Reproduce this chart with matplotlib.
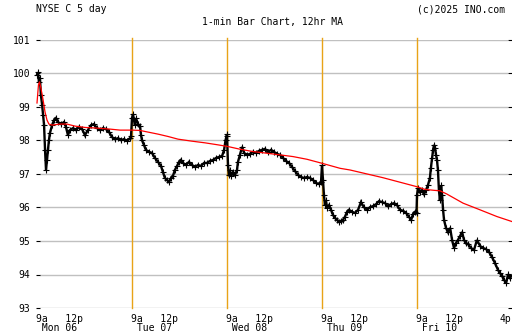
import matplotlib
matplotlib.use("Agg")
import matplotlib.pyplot as plt
import matplotlib.transforms as mtransforms
import numpy as np

# ---------------- data ----------------
day_labels = ["Mon 06", "Tue 07", "Wed 08", "Thu 09", "Fri 10"]
hour_labels = ["9a", "12p"]
end_label = "4p"
y_ticks = [93, 94, 95, 96, 97, 98, 99, 100, 101]
session_minutes = 390  # 9:30 -> 16:00

# minutes after the open, and price, per day
mon_t = [0, 4, 8, 12, 16, 21, 25, 29, 33, 37, 41, 45, 49, 53, 62, 70, 78, 86, 99, 111,
         119, 127, 135, 148, 160, 172, 185, 197, 209, 222, 234, 246, 259, 271, 283, 296,
         308, 320, 333, 345, 357, 370, 382, 386]
mon_p = [99.96, 100.04, 99.75, 99.87, 99.36, 99.06, 98.76, 98.46, 97.72, 97.12, 97.42,
         97.72, 98.01, 98.22, 98.46, 98.61, 98.67, 98.55, 98.49, 98.55, 98.40, 98.16,
         98.31, 98.37, 98.31, 98.40, 98.34, 98.16, 98.31, 98.46, 98.49, 98.37, 98.31,
         98.37, 98.34, 98.25, 98.10, 98.04, 98.07, 98.01, 98.04, 97.99, 98.07, 98.13]

tue_t = [0, 4, 8, 12, 16, 25, 33, 37, 41, 49, 57, 70, 82, 94, 107, 119, 127, 135, 144,
         152, 160, 168, 176, 185, 193, 201, 209, 222, 234, 246, 259, 271, 283, 296, 308,
         320, 333, 345, 357, 370, 378, 384, 388]
tue_p = [98.67, 98.79, 98.61, 98.46, 98.67, 98.49, 98.43, 98.16, 98.01, 97.87, 97.72,
         97.66, 97.63, 97.48, 97.36, 97.24, 97.06, 96.88, 96.82, 96.76, 96.88, 96.94,
         97.12, 97.24, 97.36, 97.42, 97.33, 97.27, 97.36, 97.27, 97.21, 97.27, 97.24,
         97.33, 97.33, 97.39, 97.42, 97.48, 97.51, 97.54, 97.72, 98.01, 98.13]

wed_t = [0, 4, 8, 12, 16, 25, 33, 41, 45, 53, 62, 70, 82, 94, 107, 119, 131, 144, 156,
         168, 181, 193, 205, 218, 230, 242, 255, 267, 279, 292, 304, 316, 329, 341, 353,
         366, 378, 386]
wed_p = [98.19, 97.27, 96.97, 97.12, 96.94, 97.06, 96.97, 97.12, 97.36, 97.57, 97.81,
         97.63, 97.57, 97.60, 97.66, 97.63, 97.69, 97.72, 97.75, 97.66, 97.72, 97.66,
         97.60, 97.57, 97.48, 97.39, 97.33, 97.21, 97.09, 96.97, 96.91, 96.88, 96.91,
         96.88, 96.82, 96.73, 96.70, 96.76]

thu_t = [0, 4, 8, 12, 16, 21, 29, 37, 45, 53, 62, 70, 78, 86, 94, 103, 111, 123, 136,
         148, 160, 172, 185, 197, 209, 222, 234, 246, 259, 271, 283, 296, 308, 320, 333,
         345, 357, 366, 374, 382, 388]
thu_p = [97.27, 96.82, 96.37, 96.07, 96.22, 95.99, 96.07, 95.93, 95.78, 95.69, 95.63,
         95.57, 95.60, 95.63, 95.72, 95.87, 95.93, 95.87, 95.84, 95.93, 96.16, 96.01,
         95.93, 96.01, 96.04, 96.10, 96.19, 96.16, 96.13, 96.04, 96.10, 96.13, 96.07,
         95.93, 95.90, 95.84, 95.72, 95.63, 95.81, 95.87, 95.84]

fri_t = [0, 4, 12, 21, 29, 37, 45, 53, 57, 62, 66, 70, 74, 78, 82, 86, 90, 94, 99, 103,
         107, 111, 119, 127, 136, 144, 152, 160, 168, 177, 185, 193, 201, 209, 222, 234,
         246, 259, 271, 283, 296, 308, 320, 333, 341, 349, 357, 366, 374, 382, 388]
fri_p = [96.37, 96.58, 96.46, 96.52, 96.40, 96.52, 96.67, 96.88, 97.18, 97.48, 97.72,
         97.87, 97.78, 97.57, 97.42, 97.12, 96.52, 96.22, 96.67, 96.37, 95.93, 95.63,
         95.39, 95.27, 95.39, 95.03, 94.79, 94.94, 95.03, 95.15, 95.27, 95.03, 94.94,
         94.91, 94.79, 94.73, 95.03, 94.85, 94.79, 94.76, 94.67, 94.52, 94.34, 94.13,
         94.04, 93.96, 93.84, 93.75, 94.01, 93.90, 93.96]

# 12hr moving average (minutes since Monday open, value)
ma_t = [0, 6, 10, 16, 25, 33, 41, 49, 62, 94, 123, 156, 197, 246, 300, 341, 390, 423,
        443, 497, 538, 579, 636, 690, 743, 784, 833, 887, 944, 998, 1051, 1108, 1170,
        1244, 1285, 1420, 1560, 1593, 1634, 1654, 1683, 1749, 1819, 1888, 1950]
ma_p = [99.12, 99.66, 99.75, 99.57, 99.21, 98.85, 98.61, 98.49, 98.46, 98.49, 98.49,
        98.43, 98.39, 98.37, 98.34, 98.31, 98.31, 98.30, 98.27, 98.19, 98.12, 98.04,
        97.98, 97.93, 97.87, 97.82, 97.74, 97.67, 97.62, 97.57, 97.52, 97.44, 97.32,
        97.17, 97.12, 96.89, 96.62, 96.54, 96.51, 96.50, 96.40, 96.13, 95.93, 95.73,
        95.58]

days_t = [mon_t, tue_t, wed_t, thu_t, fri_t]
days_p = [mon_p, tue_p, wed_p, thu_p, fri_p]

# ---------------- figure ----------------
W, H = 512, 335
fig = plt.figure(figsize=(W / 100, H / 100), dpi=100)
fig.patch.set_facecolor("white")
font = "DejaVu Sans Mono"
fs = 7

px_per_min = 95 / session_minutes
left_px, right_px, top_px, bot_px = 40, 508, 40, 308
ax = fig.add_axes([left_px / W, (H - bot_px) / H, (right_px - left_px) / W, (bot_px - top_px) / H])
x0 = (left_px - 37) / px_per_min
x1 = (right_px - 37) / px_per_min
ax.set_xlim(x0, x1)
ax.set_ylim(93, 101)
for s in ax.spines.values():
    s.set_visible(False)

for yv in y_ticks:
    ax.axhline(yv, color="#c0c0c0", lw=1.0, zorder=1)

ax.set_xticks([])
ax.set_yticks(y_ticks)
ax.set_yticklabels([str(v) for v in y_ticks], fontfamily=font, fontsize=fs)
ax.tick_params(axis="y", which="both", left=True, right=True, direction="out",
               length=2.9, width=0.8, pad=4, colors="black")

# day separators
for k in range(1, 5):
    ax.axvline(k * session_minutes, ymin=0, ymax=1.008, color="#e8a317", lw=1.0,
               zorder=2, clip_on=False)

# price trace
all_t = np.concatenate([np.array(t) + i * session_minutes for i, t in enumerate(days_t)])
all_p = np.concatenate([np.array(p) for p in days_p])
ax.plot(all_t, all_p, color="black", lw=1.7, zorder=3, clip_on=False,
        solid_joinstyle="miter")
ax.plot(all_t, all_p, color="black", lw=0, marker="+", ms=4, mew=0.8, zorder=3,
        clip_on=False)

# moving average
ax.plot(ma_t, ma_p, color="#ff0000", lw=0.9, zorder=4, clip_on=False)

# x labels: one two-line monospace block per day (hour marks above, day name below)
tr = mtransforms.blended_transform_factory(ax.transData, ax.transAxes)
min_per_px = 1 / px_per_min
y_top = (bot_px - 314.5) / (bot_px - top_px)
for i, name in enumerate(day_labels):
    d0 = i * session_minutes
    block = f"{hour_labels[0]}   {hour_labels[1]}\n {name}"
    ax.text(d0 - 1 * min_per_px, y_top, block, transform=tr, ha="left",
            va="top", fontfamily=font, fontsize=fs, linespacing=0.8)
ax.text(5 * session_minutes - 0.5 * min_per_px, y_top, end_label, transform=tr,
        ha="right", va="top", fontfamily=font, fontsize=fs, clip_on=False)

# header texts
fig.text(36 / W, 1 - 12 / H, "NYSE C 5 day", ha="left", va="baseline",
         fontfamily=font, fontsize=fs)
fig.text(505 / W, 1 - 12 / H, "(c)2025 INO.com", ha="right", va="baseline",
         fontfamily=font, fontsize=fs)
fig.text(272 / W, 1 - 25 / H, "1-min Bar Chart, 12hr MA", ha="center", va="baseline",
         fontfamily=font, fontsize=fs)

fig.savefig("out.png", dpi=100, facecolor="white")
